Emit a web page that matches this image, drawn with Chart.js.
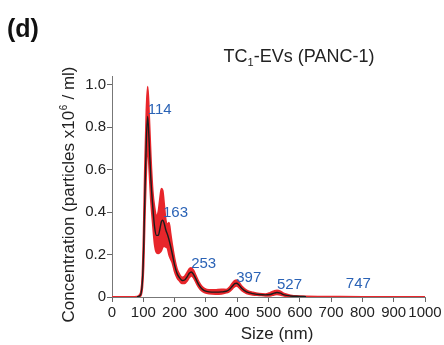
<!DOCTYPE html>
<html>
<head>
<meta charset="utf-8">
<script src="https://cdn.jsdelivr.net/npm/chart.js@4/dist/chart.umd.min.js"></script>
<style>
html,body{margin:0;padding:0;background:#fff;}
#wrap{width:444px;height:345px;position:relative;}
</style>
</head>
<body>
<div id="wrap"><canvas id="c" width="444" height="345"></canvas></div>
<script>
// ---- data (size in nm, concentration x10^6 particles / ml) ----
const sizes = [0, 60, 80, 88, 93, 97, 101, 105, 110, 114, 119, 124, 130, 136, 142, 148, 153, 158, 162, 167, 172, 177, 182, 187, 193, 200, 208, 216, 224, 232, 240, 247, 253, 260, 268, 277, 286, 295, 310, 330, 350, 365, 375, 385, 392, 398, 405, 415, 430, 450, 470, 490, 505, 518, 527, 538, 550, 570, 600, 620, 700, 800, 900, 1000];
const meanConc = [0,0,0.001,0.005,0.018,0.07,0.22,0.48,0.75,0.85,
  0.72,0.56,0.43,0.33,0.29,0.29,0.32,0.355,0.362,0.345,
  0.315,0.295,0.27,0.24,0.2,0.15,0.11,0.09,0.078,0.08,
  0.095,0.112,0.118,0.108,0.085,0.058,0.04,0.03,0.024,0.023,
  0.024,0.027,0.035,0.052,0.063,0.065,0.058,0.04,0.024,0.016,
  0.012,0.01,0.012,0.018,0.021,0.018,0.01,0.005,0.003,0.002,
  0.001,0,0,0];
const upperConc = [0,0,0.002,0.01,0.03,0.1,0.3,0.6,0.88,0.99,
  0.84,0.66,0.5,0.42,0.38,0.40,0.46,0.51,0.50,0.43,
  0.36,0.34,0.35,0.3,0.24,0.18,0.13,0.105,0.092,0.097,
  0.115,0.132,0.137,0.126,0.1,0.072,0.052,0.04,0.033,0.034,
  0.036,0.035,0.045,0.065,0.076,0.079,0.07,0.05,0.032,0.022,
  0.016,0.014,0.02,0.028,0.031,0.027,0.016,0.008,0.004,0.003,
  0.002,0.001,0.001,0.001];
const lowerConc = [0,0,0,0.002,0.01,0.045,0.15,0.38,0.62,0.72,
  0.6,0.46,0.35,0.25,0.21,0.205,0.21,0.22,0.235,0.24,
  0.235,0.23,0.2,0.18,0.16,0.12,0.09,0.075,0.064,0.064,
  0.076,0.092,0.1,0.092,0.07,0.046,0.03,0.022,0.016,0.014,
  0.015,0.02,0.026,0.04,0.05,0.052,0.046,0.03,0.017,0.01,
  0.008,0.006,0.006,0.01,0.012,0.01,0.005,0.002,0.001,0,
  0,0,0,0];
const meanRange = [70, 620];
const peakSizes = [114, 163, 253, 397, 527, 747];
const peakLabelLevels = [0.88, 0.395, 0.155, 0.09, 0.055, 0.063];
const xTicks = [0,100,200,300,400,500,600,700,800,900,1000];
const yTicks = [0,0.2,0.4,0.6,0.8,1.0];

const FONT = 'Arial, "Liberation Sans", Helvetica, sans-serif';
const toPts = (ys) => sizes.map((s,i)=>({x:s,y:ys[i]}));
const meanPts = sizes.map((s,i)=>({x:s,y:meanConc[i]})).filter(p=>p.x>=meanRange[0]&&p.x<=meanRange[1]);

const textPlugin = {
  id:'texts',
  afterDraw(chart){
    const ctx = chart.ctx;
    const xs = chart.scales.x, ys = chart.scales.y;
    ctx.save();
    // panel letter
    ctx.fillStyle = '#111';
    ctx.font = 'bold 25px ' + FONT;
    ctx.textBaseline = 'alphabetic';
    ctx.textAlign = 'left';
    ctx.fillText('(d)', 7, 37);
    // title with subscript
    ctx.fillStyle = '#222';
    const big = '18px ' + FONT, small = '11px ' + FONT;
    ctx.font = big; const w1 = ctx.measureText('TC').width;
    ctx.font = small; const w2 = ctx.measureText('1').width;
    ctx.font = big; const w3 = ctx.measureText('-EVs (PANC-1)').width;
    let tx = 299 - (w1+w2+w3)/2; const tb = 62;
    ctx.font = big; ctx.fillText('TC', tx, tb); tx += w1;
    ctx.font = small; ctx.fillText('1', tx, tb+4); tx += w2;
    ctx.font = big; ctx.fillText('-EVs (PANC-1)', tx, tb);
    // x title
    ctx.font = '17px ' + FONT;
    ctx.textAlign = 'center';
    ctx.fillStyle = '#222';
    ctx.fillText('Size (nm)', 277, 339);
    // y title rotated with superscript
    ctx.translate(74, 195);
    ctx.rotate(-Math.PI/2);
    const yf = '17px ' + FONT, ysf = '10px ' + FONT;
    const a = 'Concentration (particles x10', b = '6', c = ' / ml)';
    ctx.font = yf; const wa = ctx.measureText(a).width, wc = ctx.measureText(c).width;
    ctx.font = ysf; const wb = ctx.measureText(b).width;
    let yx = -(wa+wb+wc)/2;
    ctx.textAlign = 'left';
    ctx.font = yf; ctx.fillText(a, yx, 0); yx += wa;
    ctx.font = ysf; ctx.fillText(b, yx+0.5, -7); yx += wb+1;
    ctx.font = yf; ctx.fillText(c, yx, 0);
    ctx.restore();
    // peak labels
    ctx.save();
    ctx.fillStyle = '#2b63b6';
    ctx.font = '15px ' + FONT;
    ctx.textAlign = 'left';
    ctx.textBaseline = 'middle';
    peakSizes.forEach((p,i)=>{
      ctx.fillText(String(p), xs.getPixelForValue(p), ys.getPixelForValue(peakLabelLevels[i]));
    });
    ctx.restore();
  }
};

new Chart(document.getElementById('c'), {
  type:'line',
  data:{
    datasets:[
      {label:'mean', data:meanPts, borderColor:'#1c1c1c', borderWidth:1.4, pointRadius:0, fill:false, cubicInterpolationMode:'monotone'},
      {label:'upper', data:toPts(upperConc), borderColor:'#e8262b', backgroundColor:'#e8262b', borderWidth:1.8, pointRadius:0, fill:'+1', cubicInterpolationMode:'monotone'},
      {label:'lower', data:toPts(lowerConc), borderColor:'#e8262b', borderWidth:1.8, pointRadius:0, fill:false, cubicInterpolationMode:'monotone'}
    ]
  },
  options:{
    responsive:false,
    animation:false,
    events:[],
    layout:{padding:{left:0, top:76, right:19, bottom:0}},
    plugins:{legend:{display:false}, tooltip:{enabled:false}, title:{display:false}},
    scales:{
      x:{
        type:'linear', min:0, max:1000,
        afterBuildTicks:(s)=>{ s.ticks = xTicks.map(v=>({value:v})); },
        afterFit:(s)=>{ s.height = 48; },
        ticks:{autoSkip:false, maxRotation:0, minRotation:0, color:'#222', padding:2, font:{family:FONT, size:15}, callback:(v)=>String(v)},
        grid:{drawOnChartArea:false, drawTicks:true, tickLength:5, color:'#666', lineWidth:1},
        border:{display:true, color:'#777', width:1}
      },
      y:{
        type:'linear', min:0, max:1.04,
        afterBuildTicks:(s)=>{ s.ticks = yTicks.map(v=>({value:v})); },
        afterFit:(s)=>{ s.width = 112; },
        ticks:{color:'#222', padding:1, font:{family:FONT, size:15}, callback:(v)=> v===0 ? '0' : v.toFixed(1)},
        grid:{drawOnChartArea:false, drawTicks:true, tickLength:5, color:'#666', lineWidth:1},
        border:{display:true, color:'#777', width:1}
      }
    }
  },
  plugins:[textPlugin]
});
</script>
</body>
</html>
